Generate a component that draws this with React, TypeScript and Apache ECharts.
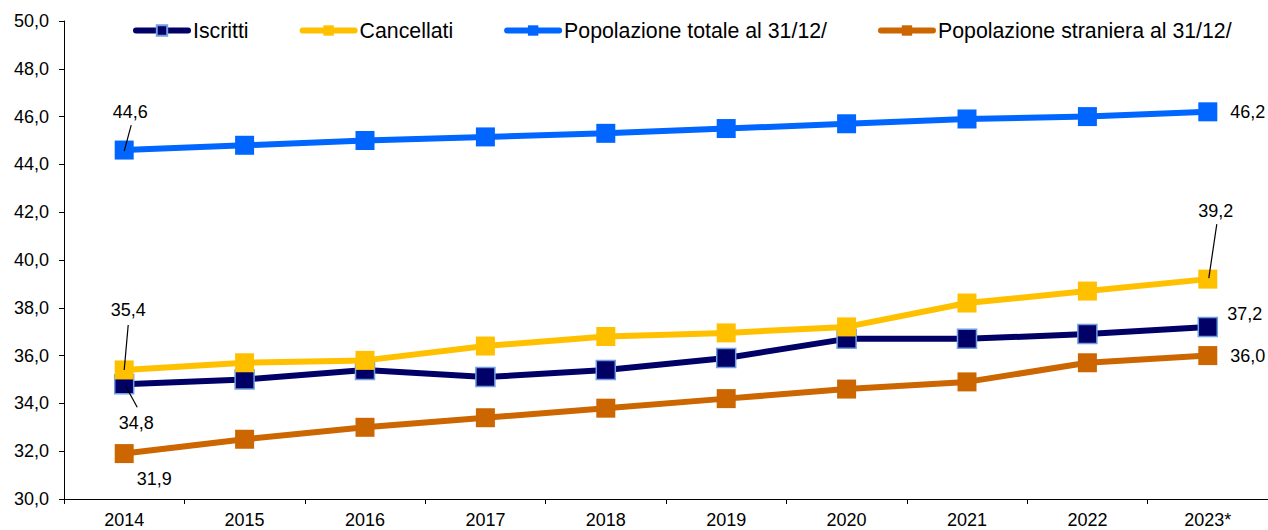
import React, { useEffect, useRef } from "react";
import * as echarts from "echarts";

const years = ["2014", "2015", "2016", "2017", "2018", "2019", "2020", "2021", "2022", "2023*"];
const iscritti = [34.8, 35.0, 35.4, 35.1, 35.4, 35.9, 36.7, 36.7, 36.9, 37.2];
const cancellati = [35.4, 35.7, 35.8, 36.4, 36.8, 36.95, 37.2, 38.2, 38.7, 39.2];
const totale = [44.6, 44.8, 45.0, 45.15, 45.3, 45.5, 45.7, 45.9, 46.0, 46.2];
const straniera = [31.9, 32.5, 33.0, 33.4, 33.8, 34.2, 34.6, 34.9, 35.7, 36.0];
const seriesNames = ["Iscritti", "Cancellati", "Popolazione totale al 31/12/", "Popolazione straniera al 31/12/"];
const colors = ["#000066", "#FFC000", "#0066FF", "#CC6600"];

// label offsets [dx, dy] from the point centre, by series and data index
const labelOffsets: Record<number, Record<number, [number, number]>> = {
  0: { 0: [12, 39], 9: [37, -13] },
  1: { 0: [4, -60], 9: [8, -68] },
  2: { 0: [6, -38], 9: [40, 0] },
  3: { 0: [30, 25], 9: [40, 0] },
};

// leader lines: [series index, data index] plus pixel offsets of both ends
const leaderPoints: [number, number][] = [[2, 0], [1, 0], [0, 0], [1, 9]];
const leaderOffsets: [number, number, number, number][] = [
  [7, -25, 0, 1],
  [4, -45, 0, 0],
  [1, 1, 13, 23],
  [9, -55, 1, -1],
];

const FONT = "'Liberation Sans', Arial, sans-serif";
const fmt = (v: number) => v.toFixed(1).replace(".", ",");

export default function App() {
  const ref = useRef<HTMLDivElement>(null);
  useEffect(() => {
    if (!ref.current) return;
    const chart = echarts.init(ref.current, null, { renderer: "svg" });
    const all = [iscritti, cancellati, totale, straniera];
    const series: any[] = all.map((vals, si) => ({
      name: seriesNames[si],
      type: "line",
      data: vals.map((v, i) => {
        const off = labelOffsets[si][i];
        if (!off) return v;
        return {
          value: v,
          label: {
            show: true,
            position: "inside",
            formatter: (p: any) => fmt(p.value),
            color: "#000",
            fontSize: 18,
            fontFamily: FONT,
          },
        };
      }),
      symbol: "rect",
      symbolSize: 19,
      showAllSymbol: true,
      lineStyle: { color: colors[si], width: 6 },
      itemStyle: si === 0
        ? { color: colors[si], borderColor: "#6F9FE0", borderWidth: 1.5 }
        : { color: colors[si], borderWidth: 0 },
      labelLayout: (p: any) => {
        const off = labelOffsets[si][p.dataIndex];
        if (!off) return {};
        return { dx: off[0], dy: off[1] };
      },
      z: 2 + si,
    }));

    series.push({
      type: "custom",
      name: "leaders",
      z: 10,
      silent: true,
      data: leaderPoints.map(([si, di], k) => [di, all[si][di], ...leaderOffsets[k]]),
      encode: { x: 0, y: 1 },
      renderItem: (params: any, api: any) => {
        const p = api.coord([api.value(0), api.value(1)]);
        return {
          type: "line",
          shape: {
            x1: p[0] + api.value(2),
            y1: p[1] + api.value(3),
            x2: p[0] + api.value(4),
            y2: p[1] + api.value(5),
          },
          style: { stroke: "#000", lineWidth: 1.2 },
        };
      },
    });

    chart.setOption({
      animation: false,
      textStyle: { fontFamily: FONT },
      legend: {
        left: 128,
        top: 15,
        itemWidth: 52,
        itemHeight: 13,
        itemGap: 51,
        lineStyle: { width: 6, cap: "round" },
        textStyle: { fontSize: 21.3, color: "#000", fontFamily: FONT },
        data: seriesNames,
      },
      grid: { left: 64, right: 0, top: 21, bottom: 31, containLabel: false },
      xAxis: {
        type: "category",
        data: years,
        boundaryGap: true,
        axisLine: { lineStyle: { color: "#000", width: 1 } },
        axisTick: { show: true, length: 5, lineStyle: { color: "#000" } },
        axisLabel: { color: "#000", fontSize: 18, fontFamily: FONT, margin: 12 },
      },
      yAxis: {
        type: "value",
        min: 30,
        max: 50,
        interval: 2,
        splitLine: { show: false },
        axisLine: { show: true, lineStyle: { color: "#000", width: 1 } },
        axisTick: { show: true, length: 5, lineStyle: { color: "#000" } },
        axisLabel: {
          color: "#000",
          fontSize: 18,
          fontFamily: FONT,
          margin: 15,
          formatter: (v: number) => fmt(v),
        },
      },
      series,
    });
    return () => chart.dispose();
  }, []);
  return (
    <div
      ref={ref}
      style={{ position: "fixed", left: 0, top: 0, width: 1268, height: 530, background: "#fff" }}
    />
  );
}
